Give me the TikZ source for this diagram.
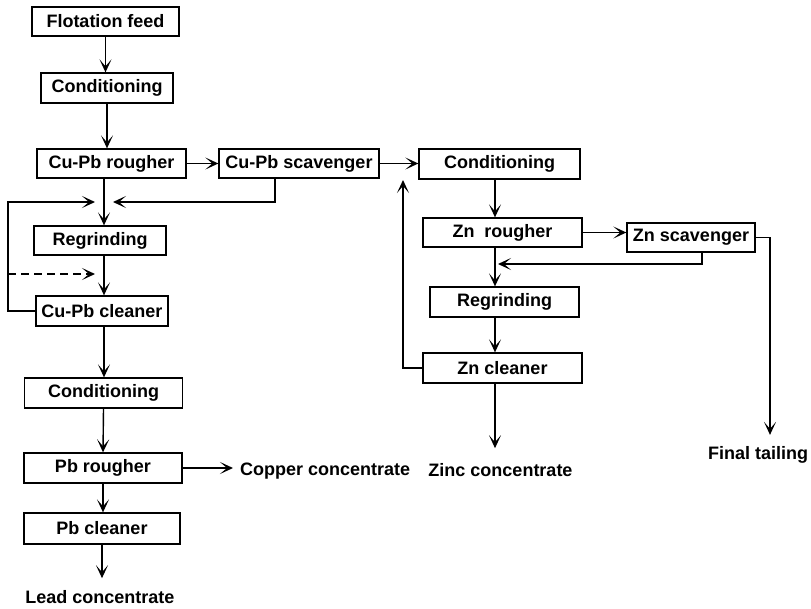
\documentclass[tikz,border=0pt]{standalone}
\usepackage{fontspec}
\setmainfont{Liberation Sans}
\usetikzlibrary{arrows.meta}
\begin{document}
\begin{tikzpicture}[x=1pt,y=-1pt,
  box/.style={draw,line width=1.3pt,inner sep=0pt,minimum height=29pt,font=\fontsize{18}{20}\selectfont\bfseries},
  outlabel/.style={inner sep=0pt,font=\fontsize{18}{20}\selectfont\bfseries},
  flow/.style={line width=1.4pt,-{Stealth[length=13pt,width=12pt,inset=7pt]}}]
\useasboundingbox (0,0) rectangle (811,608);
\node[box,minimum width=147pt] (feed) at (105.5,21.5) {Flotation feed};
\node[box,minimum width=132pt,minimum height=30pt] (cond1) at (107,88) {Conditioning};
\node[box,minimum width=149pt] (rough) at (111.5,163.5) {Cu-Pb rougher};
\node[box,minimum width=160pt] (scav) at (299,163.5) {Cu-Pb scavenger};
\node[box,minimum width=132pt] (regr) at (100,240.5) {Regrinding};
\node[box,minimum width=132pt,minimum height=30pt] (clean) at (102,311) {Cu-Pb cleaner};
\node[box,minimum width=158pt,minimum height=30pt] (cond3) at (103.5,393) {Conditioning};
\node[box,minimum width=158pt,minimum height=30pt] (pbrough) at (103,468) {Pb rougher};
\node[box,minimum width=156pt,minimum height=31pt] (pbclean) at (102,528.5) {Pb cleaner};
\node[box,minimum width=161pt,minimum height=30pt] (cond2) at (499.5,164) {Conditioning};
\node[box,minimum width=159pt] (znrough) at (502.5,232.5) {Zn\ \ rougher};
\node[box,minimum width=128pt] (znscav) at (691,237.5) {Zn scavenger};
\node[box,minimum width=149pt,minimum height=30pt] (znregr) at (504.5,302) {Regrinding};
\node[box,minimum width=159pt,minimum height=30pt] (znclean) at (502.5,368) {Zn cleaner};
\node[outlabel,anchor=west] (copper) at (240,471) {Copper concentrate};
\node[outlabel] (lead) at (100,597) {Lead concentrate};
\node[outlabel] (zinc) at (500.5,470) {Zinc concentrate};
\node[outlabel] (tail) at (758,455) {Final tailing};
\coordinate (m1) at (104,202);
\coordinate (m2) at (104,274);
\coordinate (loop) at (8,274);
\coordinate (m3) at (495,264);
\coordinate (ret) at (403,180);
\draw[flow] (feed.south) -- (feed.south |- cond1.north);
\draw[flow] (cond1.south) -- (cond1.south |- rough.north);
\draw[flow] (rough.east) -- (rough.east -| scav.west);
\draw[flow] (scav.east) -- (scav.east -| cond2.west);
\draw[flow] (rough.south -| m1) -- (regr.north -| m1);
\draw[flow] ([xshift=-24pt]scav.south) |- ([xshift=9pt]m1);
\draw[flow] (clean.west) -| (loop) |- ([xshift=-9pt]m1);
\draw[flow,dash pattern=on 8pt off 5pt] (loop) -- ([xshift=-9pt]m2);
\draw[flow] (regr.south -| m2) -- (clean.north -| m2);
\draw[flow] (clean.south -| m2) -- (cond3.north -| m2);
\draw[flow] (cond3.south) -- (pbrough.north);
\draw[flow] (pbrough.south) -- (pbrough.south |- pbclean.north);
\draw[flow,shorten >=7pt] (pbrough.east) -- (pbrough.east -| copper.west);
\draw[flow,shorten >=12pt] (pbclean.south) -- (pbclean.south |- lead.north);
\draw[flow] (cond2.south -| m3) -- (znrough.north -| m3);
\draw[flow] (znrough.east) -- (znrough.east -| znscav.west);
\draw[flow] (znrough.south -| m3) -- (znregr.north -| m3);
\draw[flow] ([xshift=11pt]znscav.south) |- ([xshift=3pt]m3);
\draw[flow] (znregr.south -| m3) -- (znclean.north -| m3);
\draw[flow] (znclean.west) -| (ret);
\draw[flow,shorten >=15pt] (znclean.south -| m3) -- (zinc.north -| m3);
\draw[flow,shorten >=11.5pt] (znscav.east) -| ([xshift=12pt]tail.north);
\end{tikzpicture}
\end{document}
